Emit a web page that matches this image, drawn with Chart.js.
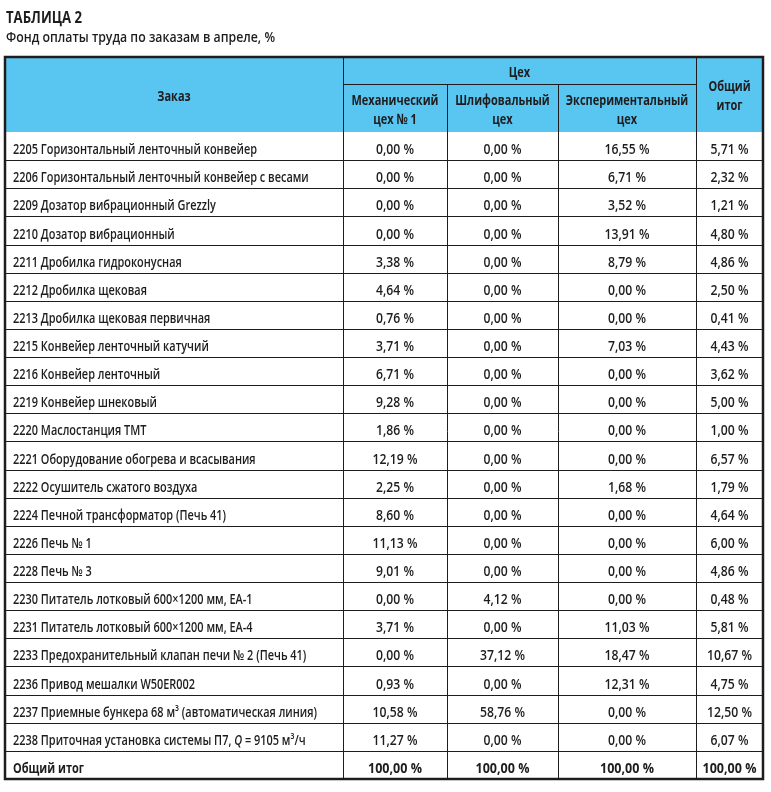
<!DOCTYPE html>
<html>
<head>
<meta charset="utf-8">
<script src="https://cdn.jsdelivr.net/npm/chart.js@4.4.1/dist/chart.umd.min.js"></script>
<style>
    html, body { margin: 0; padding: 0; background: #fff; }
    #tbl { display: block; }
</style>
</head>
<body>
<canvas id="tbl" width="771" height="792"></canvas>
<script>
// ===================== data =====================
var orders = [
    "2205 Горизонтальный ленточный конвейер",
    "2206 Горизонтальный ленточный конвейер с весами",
    "2209 Дозатор вибрационный Grezzly",
    "2210 Дозатор вибрационный",
    "2211 Дробилка гидроконусная",
    "2212 Дробилка щековая",
    "2213 Дробилка щековая первичная",
    "2215 Конвейер ленточный катучий",
    "2216 Конвейер ленточный",
    "2219 Конвейер шнековый",
    "2220 Маслостанция ТМТ",
    "2221 Оборудование обогрева и всасывания",
    "2222 Осушитель сжатого воздуха",
    "2224 Печной трансформатор (Печь 41)",
    "2226 Печь № 1",
    "2228 Печь № 3",
    "2230 Питатель лотковый 600×1200 мм, ЕА-1",
    "2231 Питатель лотковый 600×1200 мм, ЕА-4",
    "2233 Предохранительный клапан печи № 2 (Печь 41)",
    "2236 Привод мешалки W50ER002",
    "2237 Приемные бункера 68 м³ (автоматическая линия)",
    "2238 Приточная установка системы П7, _Q_ = 9105 м³/ч"
];
var mechShop  = [0, 0, 0, 0, 3.38, 4.64, 0.76, 3.71, 6.71, 9.28, 1.86, 12.19, 2.25, 8.60, 11.13, 9.01, 0, 3.71, 0, 0.93, 10.58, 11.27];
var grindShop = [0, 0, 0, 0, 0, 0, 0, 0, 0, 0, 0, 0, 0, 0, 0, 0, 4.12, 0, 37.12, 0, 58.76, 0];
var expShop   = [16.55, 6.71, 3.52, 13.91, 8.79, 0, 0, 7.03, 0, 0, 0, 0, 1.68, 0, 0, 0, 0, 11.03, 18.47, 12.31, 0, 0];
var grandTotal = [5.71, 2.32, 1.21, 4.80, 4.86, 2.50, 0.41, 4.43, 3.62, 5.00, 1.00, 6.57, 1.79, 4.64, 6.00, 4.86, 0.48, 5.81, 10.67, 4.75, 12.50, 6.07];
var totalLabel = "Общий итог";
var totalRow = [100, 100, 100, 100];

var titleText = "ТАБЛИЦА 2";
var subtitleText = "Фонд оплаты труда по заказам в апреле, %";
var headOrder = "Заказ";
var headShop = "Цех";
var shopHeads = [["Механический", "цех № 1"], ["Шлифовальный", "цех"], ["Экспериментальный", "цех"]];
var headTotal = ["Общий", "итог"];

// ===================== layout / style =====================
var colEdges = [0, 338, 442, 553, 691, 758]; // column borders, x-scale units
var headerH = 75;
var headSplit = 27;
var FONT = '"Open Sans", "Noto Sans", sans-serif';
var INK = "#1e1c1d";
var headBlue = "#59c5f1";

// each text role: font + a condensing factor so its sample string gets the given width
var roles = {
    title:  { font: "bold 16px " + FONT, sample: titleText, width: 76 },
    sub:    { font: "600 15px " + FONT, sample: subtitleText, width: 269 },
    head:   { font: "bold 14.5px " + FONT, sample: "Механический", width: 87 },
    body:   { font: "600 14px " + FONT, sample: orders[0], width: 244 },
    num:    { font: "600 14px " + FONT, sample: "0,00 %", width: 38 },
    bold:   { font: "bold 14.5px " + FONT, sample: totalLabel, width: 71 },
    numTot: { font: "bold 14.5px " + FONT, sample: "100,00 %", width: 54 }
};

function fmt(v) {
    return v.toFixed(2).replace(".", ",") + " %";
}

function fitRoles(c) {
    Object.keys(roles).forEach(function (k) {
        var r = roles[k];
        c.font = r.font;
        r.sx = r.width / c.measureText(r.sample).width;
    });
}

// horizontally condensed text, returns drawn width
function say(c, s, x, y, role, align, font) {
    var r = roles[role];
    c.save();
    c.font = font || r.font;
    c.textAlign = align || "left";
    var w = c.measureText(s).width * r.sx;
    c.translate(x, y);
    c.scale(r.sx, 1);
    c.fillText(s, 0, 0);
    c.restore();
    return w;
}

// text with _italic_ parts
function sayRich(c, text, x, y, role) {
    text.split("_").forEach(function (p, i) {
        var f = (i % 2 ? "italic " : "") + roles[role].font;
        x += say(c, p, x, y, role, "left", f);
    });
}

var tablePlugin = {
    id: "tablePlugin",
    afterDraw: function (chart) {
        var c = chart.ctx;
        var xs = chart.scales.x, ys = chart.scales.y, area = chart.chartArea;
        var n = chart.data.labels.length;
        var rowH = (area.bottom - area.top) / n;
        var xe = colEdges.map(function (v) { return Math.round(xs.getPixelForValue(v)); });
        var top = Math.round(area.top - headerH);
        var bottom = Math.round(area.bottom);

        c.save();
        fitRoles(c);
        c.textBaseline = "alphabetic";

        // title
        c.fillStyle = INK;
        say(c, titleText, xe[0] + 1, 23, "title");
        say(c, subtitleText, xe[0] + 1, 42, "sub");

        // header fill
        c.fillStyle = headBlue;
        c.fillRect(xe[0], top, xe[5] - xe[0], headerH);

        // grid lines
        c.strokeStyle = INK;
        c.lineWidth = 1;
        c.beginPath();
        for (var i = 1; i < n; i++) {
            var yy = Math.round(area.top + i * rowH) + 0.5;
            c.moveTo(xe[0], yy); c.lineTo(xe[5], yy);
        }
        [1, 2, 3, 4].forEach(function (k) {
            var x = xe[k] + 0.5;
            var y0 = (k === 2 || k === 3) ? top + headSplit : top;
            c.moveTo(x, y0); c.lineTo(x, bottom);
        });
        c.moveTo(xe[1], top + headSplit + 0.5); c.lineTo(xe[4], top + headSplit + 0.5);
        c.stroke();

        // outer frame
        c.lineWidth = 2.5;
        c.strokeRect(xe[0], top, xe[5] - xe[0], bottom - top);

        // header text
        c.fillStyle = INK;
        say(c, headOrder, (xe[0] + xe[1]) / 2, top + 44, "head", "center");
        say(c, headShop, (xe[1] + xe[4]) / 2, top + 20, "head", "center");
        shopHeads.forEach(function (h, k) {
            var cx = (xe[k + 1] + xe[k + 2]) / 2;
            say(c, h[0], cx, top + 48, "head", "center");
            say(c, h[1], cx, top + 67, "head", "center");
        });
        var tx = (xe[4] + xe[5]) / 2;
        say(c, headTotal[0], tx, top + 34, "head", "center");
        say(c, headTotal[1], tx, top + 53, "head", "center");

        // body
        var cols = [mechShop, grindShop, expShop, grandTotal];
        chart.data.labels.forEach(function (lab, r) {
            var y = ys.getPixelForValue(r) + rowH / 2 - 6;
            var isTotal = r === n - 1;
            sayRich(c, lab, xe[0] + 8, y, isTotal ? "bold" : "body");
            cols.forEach(function (col, k) {
                var v = isTotal ? totalRow[k] : col[r];
                say(c, fmt(v), (xe[k + 1] + xe[k + 2]) / 2, y, isTotal ? "numTot" : "num", "center");
            });
        });
        c.restore();
    }
};

new Chart(document.getElementById("tbl"), {
    type: "scatter",
    data: {
        labels: orders.concat([totalLabel]),
        datasets: []
    },
    options: {
        responsive: false,
        animation: false,
        events: [],
        layout: { padding: { left: 5, right: 8, top: 132, bottom: 13 } },
        plugins: {
            legend: { display: false },
            tooltip: { enabled: false }
        },
        scales: {
            x: { type: "linear", min: 0, max: 758, display: false },
            y: { type: "category", offset: true, display: false }
        }
    },
    plugins: [tablePlugin]
});
</script>
</body>
</html>
